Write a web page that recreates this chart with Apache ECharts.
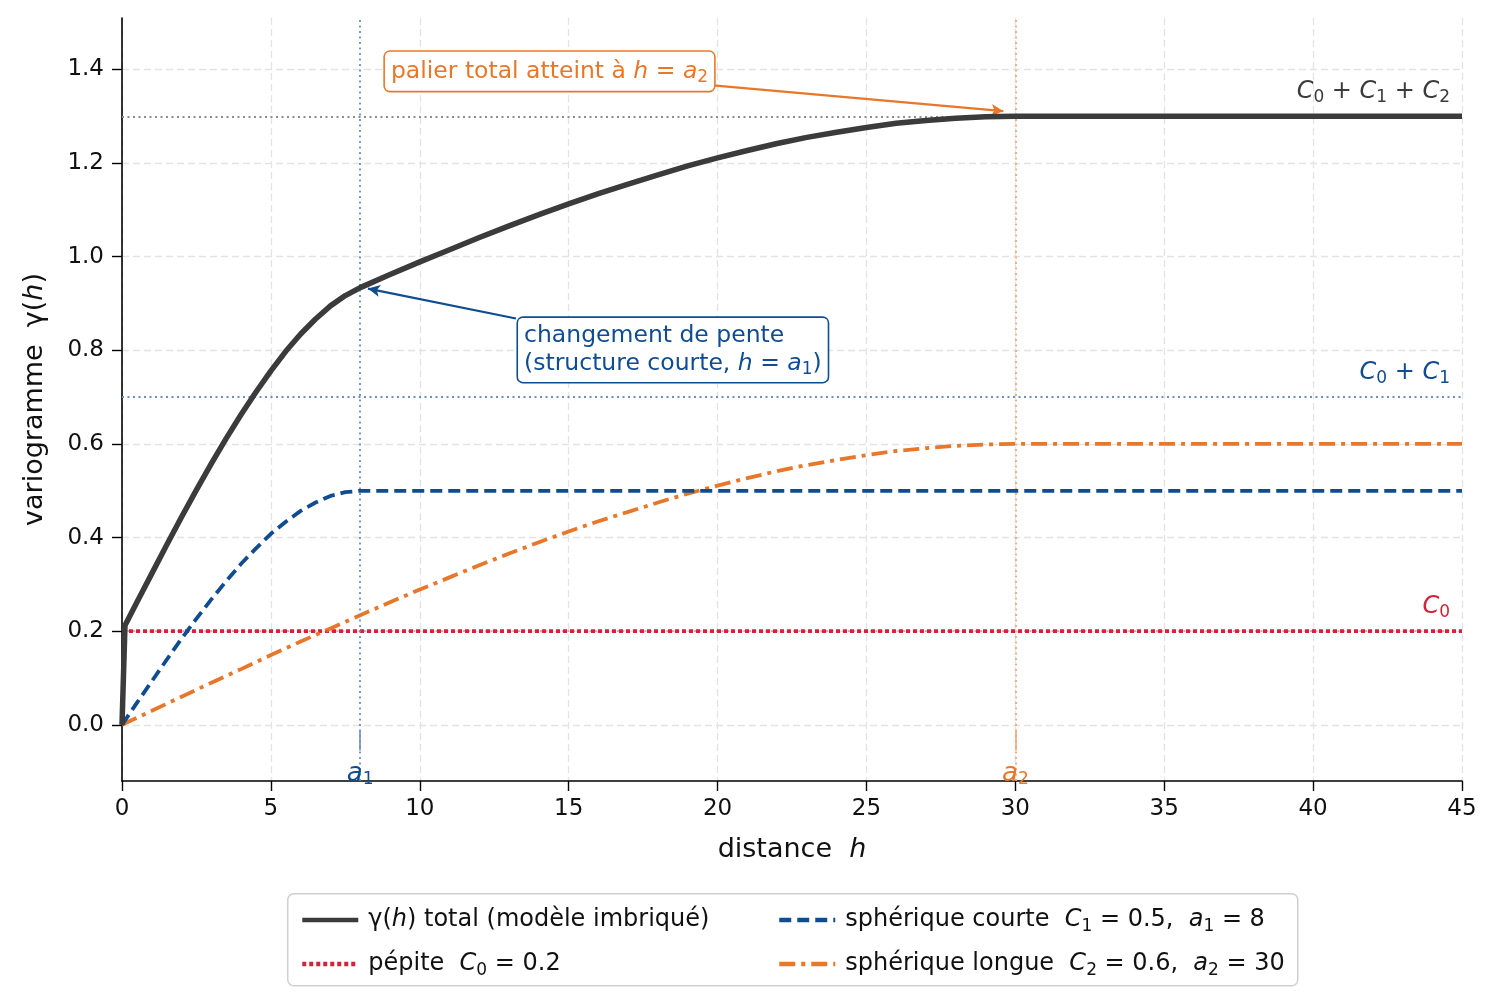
<!DOCTYPE html>
<html>
<head>
<meta charset="utf-8">
<script src="https://cdn.jsdelivr.net/npm/echarts@6/dist/echarts.min.js"></script>
<style>html,body{margin:0;padding:0;background:#fff}#c{width:1497px;height:1005px}</style>
</head>
<body>
<div id="c"></div>
<script>
// ---- data ----
const hTotal = [0,0.1,0.5,1,1.5,2,2.5,3,3.5,4,4.5,5,5.5,6,6.5,7,7.5,8,9,10,11,12,13,14,15,16,17,18,19,20,21,22,23,24,25,26,27,28,29,30,45];
const gTotal = [0,0.212,0.262,0.323,0.384,0.444,0.502,0.558,0.612,0.663,0.711,0.756,0.798,0.835,0.867,0.895,0.917,0.934,0.962,0.989,1.015,1.041,1.066,1.090,1.113,1.135,1.155,1.175,1.194,1.211,1.227,1.242,1.255,1.266,1.276,1.285,1.291,1.296,1.299,1.300,1.300];
const hShort = [0,0.5,1,1.5,2,2.5,3,3.5,4,4.5,5,5.5,6,6.5,7,7.5,8,45];
const gShort = [0,0.047,0.093,0.139,0.184,0.227,0.268,0.307,0.344,0.377,0.408,0.434,0.457,0.475,0.489,0.497,0.5,0.5];
const hLong = [0,1,2,3,4,5,6,7,8,9,10,11,12,13,14,15,16,17,18,19,20,21,22,23,24,25,26,27,28,29,30,45];
const gLong = [0,0.030,0.060,0.090,0.119,0.149,0.178,0.206,0.234,0.262,0.289,0.315,0.341,0.366,0.390,0.413,0.435,0.455,0.475,0.494,0.511,0.527,0.542,0.555,0.566,0.576,0.585,0.591,0.596,0.599,0.6,0.6];
const hNugget = [0,45];
const gNugget = [0.2,0.2];
const xTicks = [0,5,10,15,20,25,30,35,40,45];
const yTicks = [0,0.2,0.4,0.6,0.8,1.0,1.2,1.4];
const C0 = 0.2, C01 = 0.7, C012 = 1.3, a1 = 8, a2 = 30;

const zip = (xs, ys) => xs.map((x, i) => [x, ys[i]]);

const FONT = 'DejaVu Sans';
const DARK = '#3b3b3b', BLUE = '#0f4c92', ORANGE = '#e8772a', RED = '#d42237';

const sub = (c, fs) => ({fontSize: fs, fontFamily: FONT, color: c, verticalAlign: 'bottom', lineHeight: 18});
const it = (c, fs) => ({fontSize: fs, fontFamily: FONT, fontStyle: 'italic', color: c});

const legendNames = {
  total: '{g|}γ({i|h}) total (modèle imbriqué)',
  nugget: '{g|}pépite  {i|C}{s|0} = 0.2',
  short: '{g|}sphérique courte  {i|C}{s|1} = 0.5,  {i|a}{s|1} = 8',
  long: '{g|}sphérique longue  {i|C}{s|2} = 0.6,  {i|a}{s|2} = 30'
};
const legendText = {
  fontSize: 24, fontFamily: FONT, color: '#111', lineHeight: 30,
  rich: {g: {width: 5}, i: it('#111', 24), s: Object.assign(sub('#111', 17), {lineHeight: 16})}
};

const lbl = (coord, text, color, fs, align, extra) => ({
  value: coord,
  label: Object.assign({
    show: true, position: [0, 0], align: align, verticalAlign: 'middle',
    formatter: text, color: color, fontSize: fs, fontFamily: FONT, lineHeight: 28,
    rich: {i: it(color, fs), s: Object.assign(sub(color, 17), {lineHeight: 18}), t: {fontSize: fs, fontFamily: FONT, color: color}}
  }, extra || {})
});

const legendBase = {
  orient: 'vertical', itemGap: 14, itemWidth: 56, itemHeight: 14, top: 900,
  formatter: n => legendNames[n], textStyle: legendText,
  itemStyle: {opacity: 0}, lineStyle: {width: 4.5}
};

const option = {
  animation: false,
  backgroundColor: '#fff',
  grid: {left: 122, right: 35, top: 18, bottom: 224, containLabel: false},
  xAxis: {
    type: 'value', min: 0, max: 45, interval: 5,
    name: 'distance  {i|h}', nameLocation: 'middle', nameGap: 55,
    nameTextStyle: {fontSize: 27, fontFamily: FONT, color: '#111', rich: {i: it('#111', 27)}},
    axisLine: {show: true, onZero: false, lineStyle: {color: '#000', width: 1.6}},
    axisTick: {show: true, length: 10, lineStyle: {color: '#000', width: 1.4}},
    axisLabel: {fontSize: 23, fontFamily: FONT, color: '#111', margin: 17},
    splitLine: {show: true, lineStyle: {color: '#e3e3e3', width: 1.3, type: [7, 4]}}
  },
  yAxis: {
    type: 'value', min: -0.12, max: 1.51,
    name: 'variogramme  γ({i|h})', nameLocation: 'middle', nameGap: 74, nameRotate: 90,
    nameTextStyle: {fontSize: 27, fontFamily: FONT, color: '#111', rich: {i: it('#111', 27)}},
    axisLine: {show: true, onZero: false, lineStyle: {color: '#000', width: 1.6}},
    axisTick: {show: true, length: 10, lineStyle: {color: '#000', width: 1.4}, customValues: yTicks},
    axisLabel: {fontSize: 23, fontFamily: FONT, color: '#111', margin: 18, customValues: yTicks,
      formatter: v => v.toFixed(1)},
    splitLine: {show: true, lineStyle: {color: '#e3e3e3', width: 1.3, type: [7, 4]}}
  },
  legend: [
    Object.assign({left: 295, data: ['total', 'nugget']}, legendBase),
    Object.assign({left: 772, data: ['short', 'long']}, legendBase)
  ],
  graphic: [{
    type: 'rect', left: 287, top: 893, z: -1,
    shape: {width: 1010, height: 92, r: 6},
    style: {fill: '#fff', stroke: '#cfcfcf', lineWidth: 1.5}
  }],
  series: [
    {
      name: 'guides', type: 'line', data: [], silent: true, z: 1,
      markLine: {
        silent: true, symbol: ['none', 'none'], label: {show: false}, animation: false,
        data: [
          {yAxis: C012, lineStyle: {color: '#8c8c8c', width: 1.8, type: [2, 3.5]}},
          {yAxis: C01, lineStyle: {color: '#6c8fbf', width: 1.8, type: [2, 3.5]}},
          {yAxis: C0, lineStyle: {color: 'rgba(212,34,55,0.35)', width: 1.8, type: [2, 3.5]}},
          {xAxis: a1, lineStyle: {color: '#6c8fbf', width: 1.8, type: [2, 3.5]}},
          {xAxis: a2, lineStyle: {color: '#f0a877', width: 1.8, type: [2, 3.5]}},
          [{coord: [a1, -0.012], lineStyle: {color: '#6c8fbf', width: 1.6, type: 'solid'}}, {coord: [a1, -0.055]}],
          [{coord: [a2, -0.012], lineStyle: {color: '#f0a877', width: 1.6, type: 'solid'}}, {coord: [a2, -0.055]}]
        ]
      }
    },
    {
      name: 'nugget', type: 'line', data: zip(hNugget, gNugget), symbol: 'none', z: 3,
      lineStyle: {color: RED, width: 3.8, type: [4, 3]}, itemStyle: {color: RED}
    },
    {
      name: 'long', type: 'line', data: zip(hLong, gLong), symbol: 'none', z: 4,
      lineStyle: {color: ORANGE, width: 3.8, type: [16, 6, 4, 6]}, itemStyle: {color: ORANGE}
    },
    {
      name: 'short', type: 'line', data: zip(hShort, gShort), symbol: 'none', z: 5,
      lineStyle: {color: BLUE, width: 3.8, type: [12, 6]}, itemStyle: {color: BLUE}
    },
    {
      name: 'total', type: 'line', data: zip(hTotal, gTotal), symbol: 'none', z: 6,
      lineStyle: {color: DARK, width: 5.5, cap: 'butt', join: 'round'}, itemStyle: {color: DARK}
    },
    {
      name: 'annotations', type: 'scatter', symbolSize: 0, silent: true, z: 10,
      itemStyle: {opacity: 1},
      data: [
        lbl([44.6, 1.352], '{i|C}{s|0} + {i|C}{s|1} + {i|C}{s|2}', DARK, 24, 'right'),
        lbl([44.6, 0.752], '{i|C}{s|0} + {i|C}{s|1}', BLUE, 24, 'right'),
        lbl([44.6, 0.252], '{i|C}{s|0}', RED, 24, 'right'),
        lbl([a1, -0.105], '{i|a}{s|1}', BLUE, 26, 'center'),
        lbl([a2, -0.105], '{i|a}{s|2}', ORANGE, 26, 'center'),
        lbl([8.83, 1.396], '{t|palier total atteint à }{i|h}{t| = }{i|a}{s|2}', ORANGE, 23.5, 'left',
          {backgroundColor: '#fff', borderColor: ORANGE, borderWidth: 1.6, borderRadius: 5, padding: [6, 6, 5, 6]}),
        lbl([13.3, 0.801], '{t|changement de pente}\n{t|(structure courte, }{i|h}{t| = }{i|a}{s|1}{t|)}', BLUE, 23.5, 'left',
          {backgroundColor: '#fff', borderColor: BLUE, borderWidth: 1.6, borderRadius: 5, padding: [4, 6, 4, 6]})
      ],
      markLine: {
        silent: true, label: {show: false}, animation: false,
        symbol: ['none', 'arrow'], symbolSize: [9, 12],
        data: [
          [{coord: [19.85, 1.366], lineStyle: {color: ORANGE, width: 2.2, type: 'solid'}, itemStyle: {color: ORANGE}}, {coord: [29.6, 1.311]}],
          [{coord: [13.23, 0.868], lineStyle: {color: BLUE, width: 2.2, type: 'solid'}, itemStyle: {color: BLUE}}, {coord: [8.26, 0.932]}]
        ]
      }
    }
  ]
};

const chart = echarts.init(document.getElementById('c'), null, {renderer: 'canvas'});
chart.setOption(option);
</script>
</body>
</html>
